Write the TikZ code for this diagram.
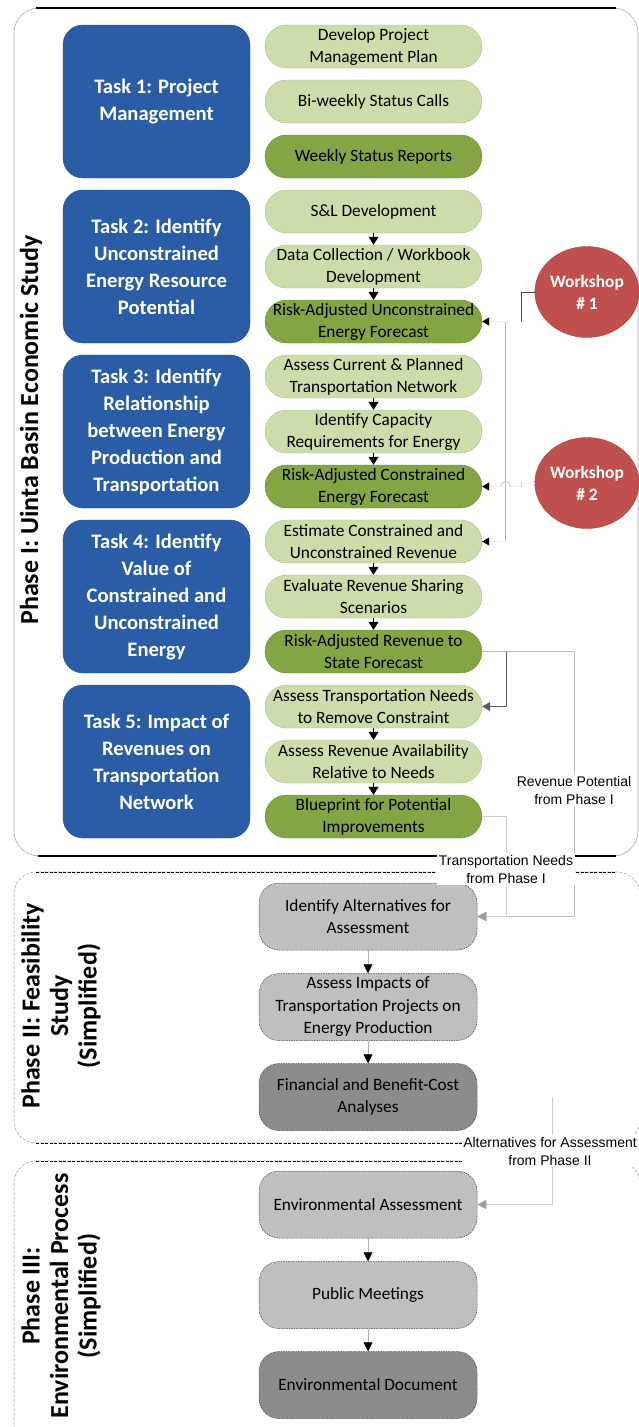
\documentclass[tikz,border=0pt]{standalone}
\usepackage{fontspec}
\setmainfont{Carlito}
\newfontfamily\labelfont{Liberation Sans}
\usetikzlibrary{arrows.meta,shapes.geometric}
\definecolor{taskblue}{RGB}{42,93,166}
\definecolor{lightgreen}{RGB}{205,220,171}
\definecolor{darkgreen}{RGB}{132,165,67}
\definecolor{workred}{RGB}{192,80,77}
\definecolor{lightgrey}{RGB}{191,191,191}
\definecolor{darkgrey}{RGB}{140,140,140}

\begin{document}
\begin{tikzpicture}[x=1pt,y=-1pt,
  taskbox/.style={rectangle, rounded corners=20pt, fill=taskblue, draw=taskblue!85!black,
    line width=0.4pt, minimum width=187pt, minimum height=153pt, inner sep=0pt,
    align=center, text=white, font=\fontsize{20.6}{27}\selectfont\bfseries},
  stepbox/.style={rectangle, rounded corners=21.5pt, minimum width=217pt, minimum height=43pt,
    inner sep=0pt, align=center, line width=0.4pt, font=\fontsize{17.3}{22}\selectfont},
  lgbox/.style={stepbox, fill=lightgreen, draw=lightgreen!85!black},
  dgbox/.style={stepbox, fill=darkgreen, draw=darkgreen!85!black},
  greybox/.style={rectangle, rounded corners=20pt, minimum width=218pt, minimum height=67pt,
    inner sep=0pt, align=center, draw=black!75, line width=0.5pt,
    dash pattern=on 1.5pt off 1pt, font=\fontsize{17.3}{22.5}\selectfont},
  lgrey/.style={greybox, fill=lightgrey},
  dgrey/.style={greybox, fill=darkgrey},
  workshop/.style={ellipse, minimum width=84pt, minimum height=91pt, inner sep=0pt,
    fill=workred, draw=workred!90!black, line width=0.4pt, align=center, text=white,
    font=\fontsize{17.4}{22}\selectfont\bfseries},
  phaselabel/.style={rotate=90, align=center, inner sep=0pt,
    font=\fontsize{26}{28.5}\selectfont\bfseries},
  sidelabel/.style={fill=white, inner sep=1.5pt, align=center,
    font=\labelfont\fontsize{14}{18}\selectfont},
  flow/.style={line width=0.6pt, -{Triangle[width=10pt,length=8pt]}},
  greyflow/.style={draw=gray!60, line width=0.5pt,
    -{Triangle[width=9pt,length=9pt,color=black,fill=black]}},
  sidearrow/.style={draw=gray!12, line width=0.6pt,
    -{Triangle[width=8pt,length=7pt,color=black,fill=black]}},
  feed/.style={line width=0.6pt,
    -{Triangle[width=9pt,length=9pt,color=gray!75,fill=gray!75]}},
]
\useasboundingbox (0,0) rectangle (639,1427);
\clip (0,0) rectangle (639,1427);

% ---------- phase frames ----------
\draw[gray!70, line width=0.6pt, rounded corners=25pt] (14,8) rectangle (638,856);
\draw[black, line width=1.2pt] (36,8) -- (616,8);
\draw[black, line width=2.5pt] (38,856) -- (616,856);

\draw[gray!70, line width=0.6pt, dash pattern=on 3pt off 1.5pt, rounded corners=22pt]
  (14,872) rectangle (639.5,1143);
\draw[black, line width=0.9pt, dash pattern=on 3pt off 1.5pt] (36,872) -- (616,872);
\draw[black, line width=0.9pt, dash pattern=on 3pt off 1.5pt] (36,1143) -- (616,1143);

\draw[gray!70, line width=0.6pt, dash pattern=on 3pt off 1.5pt, rounded corners=22pt]
  (14,1161) rectangle (639.5,1450);
\draw[black, line width=0.9pt, dash pattern=on 3pt off 1.5pt] (36,1161) -- (616,1161);

\node[phaselabel] (ph1) at (31,430) {Phase I: Uinta Basin Economic Study};
\node[phaselabel] (ph2) at (61,1006) {Phase II: Feasibility\\Study\\(Simplified)};
\node[phaselabel] (ph3) at (61,1296) {Phase III:\\Environmental Process\\(Simplified)};

% ---------- Phase I tasks ----------
\node[taskbox] (t1) at (156.5,101.5) {Task 1: Project\\Management};
\node[taskbox] (t2) at (156.5,266.5) {Task 2: Identify\\Unconstrained\\Energy Resource\\Potential};
\node[taskbox] (t3) at (156.5,431.5) {Task 3: Identify\\Relationship\\between Energy\\Production and\\Transportation};
\node[taskbox] (t4) at (156.5,596.5) {Task 4: Identify\\Value of\\Constrained and\\Unconstrained\\Energy};
\node[taskbox] (t5) at (156.5,761.5) {Task 5: Impact of\\Revenues on\\Transportation\\Network};

% ---------- Phase I steps ----------
\node[lgbox] (g0)  at (373.5,46.5)  {Develop Project\\Management Plan};
\node[lgbox] (g1)  at (373.5,101.5) {Bi-weekly Status Calls};
\node[dgbox] (g2)  at (373.5,156.5) {Weekly Status Reports};
\node[lgbox] (g3)  at (373.5,211.5) {S\&L Development};
\node[lgbox] (g4)  at (373.5,266.5) {Data Collection / Workbook\\Development};
\node[dgbox] (g5)  at (373.5,321.5) {Risk-Adjusted Unconstrained\\Energy Forecast};
\node[lgbox] (g6)  at (373.5,376.5) {Assess Current \& Planned\\Transportation Network};
\node[lgbox] (g7)  at (373.5,431.5) {Identify Capacity\\Requirements for Energy};
\node[dgbox] (g8)  at (373.5,486.5) {Risk-Adjusted Constrained\\Energy Forecast};
\node[lgbox] (g9)  at (373.5,541.5) {Estimate Constrained and\\Unconstrained Revenue};
\node[lgbox] (g10) at (373.5,596.5) {Evaluate Revenue Sharing\\Scenarios};
\node[dgbox] (g11) at (373.5,651.5) {Risk-Adjusted Revenue to\\State Forecast};
\node[lgbox] (g12) at (373.5,706.5) {Assess Transportation Needs\\to Remove Constraint};
\node[lgbox] (g13) at (373.5,761.5) {Assess Revenue Availability\\Relative to Needs};
\node[dgbox] (g14) at (373.5,816.5) {Blueprint for Potential\\Improvements};

\draw[flow] (g3.south) -- (g4.north);
\draw[flow] (g4.south) -- (g5.north);
\draw[flow] (g6.south) -- (g7.north);
\draw[flow] (g7.south) -- (g8.north);
\draw[flow] (g9.south) -- (g10.north);
\draw[flow] (g10.south) -- (g11.north);
\draw[flow] (g12.south) -- (g13.north);
\draw[flow] (g13.south) -- (g14.north);

% ---------- workshops ----------
\node[workshop] (w1) at (587,292) {Workshop\\\# 1};
\node[workshop] (w2) at (587,483) {Workshop\\\# 2};

\coordinate (busA) at (505.5,321.5);
\coordinate (busB) at (505.5,541.5);
\coordinate (hopR) at (510.5,486.5);
\coordinate (hopL) at (500.5,486.5);
\draw[black!70, line width=0.6pt] (w1.west) -| (521,321.5);
\draw[gray!60, line width=0.6pt] (busA) -- (busB);
\draw[sidearrow] (busA) -- (g5.east);
\draw[sidearrow] (busB) -- (g9.east);
\draw[gray!12, line width=0.6pt] (w2.west) -| (521,486.5) -- (hopR);
\draw[gray!40, line width=0.6pt] (521,482) -- (521,487);
\draw[gray!60, line width=0.6pt] (hopR) arc[start angle=0, end angle=180, radius=5pt];
\draw[sidearrow] (hopL) -- (g8.east);

% ---------- Phase II / III steps ----------
\node[lgrey] (ia) at (368,916.5) {Identify Alternatives for\\Assessment};
\node[lgrey] (ai) at (368,1007) {Assess Impacts of\\Transportation Projects on\\Energy Production};
\node[dgrey] (fb) at (368,1097) {Financial and Benefit-Cost\\Analyses};
\node[lgrey] (ea) at (368,1204.5) {Environmental Assessment};
\node[lgrey] (pm) at (368,1295) {Public Meetings};
\node[dgrey] (ed) at (368,1385) {Environmental Document};

\draw[greyflow] (ia.south) -- (ai.north);
\draw[greyflow] (ai.south) -- (fb.north);
\draw[greyflow] (ea.south) -- (pm.north);
\draw[greyflow] (pm.south) -- (ed.north);

% ---------- hand-offs between steps and phases ----------
\draw[black!65, line width=0.6pt, -{Triangle[width=9pt,length=8pt]}]
  (g11.east) -- (506,651.5) |- (g12.east);
\draw[feed, draw=gray!55] (g11.east) -- (574,651.5) |- (ia.east);
\draw[feed, draw=gray!40] (g14.east) -- (506,816.5) |- (ia.east);
\coordinate (altstart) at (552,1097);
\draw[feed, draw=gray!40] (altstart) |- (ea.east);

\node[sidelabel] (revlab) at (574,790) {Revenue Potential\\from Phase I};
\node[sidelabel] (tnlab) at (506,869) {Transportation Needs\\from Phase I};
\node[sidelabel] (altlab) at (550,1151) {Alternatives for Assessment\\from Phase II};
\end{tikzpicture}
\end{document}
